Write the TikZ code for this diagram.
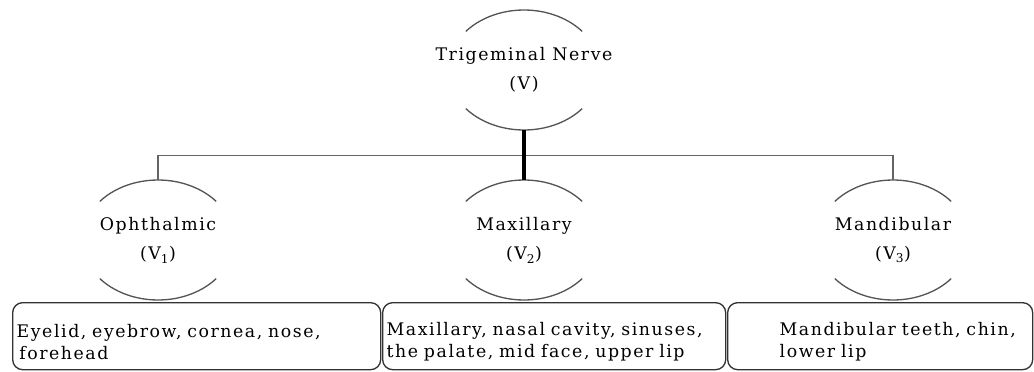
\documentclass[tikz,border=0pt]{standalone}
\usepackage{fontspec}
\setmainfont[LetterSpace=9]{DejaVu Serif}
\usepackage{tikz}
\usetikzlibrary{shapes.geometric}
\definecolor{arcgray}{RGB}{85,85,85}
\definecolor{linegray}{RGB}{100,100,100}
\definecolor{boxgray}{RGB}{50,50,50}
\newcommand{\nervearcs}[1]{
  \draw [arcline] ([shift={(#1.center)}]140:76 and 60) arc [start angle=140, end angle=40, x radius=76, y radius=60];
  \draw [arcline] ([shift={(#1.center)}]220:76 and 60) arc [start angle=220, end angle=320, x radius=76, y radius=60];
}

\begin{document}
\begin{tikzpicture}[x=0.75pt,y=-0.75pt,
    nerve/.style={ellipse,minimum width=114pt,minimum height=90pt,inner sep=0pt,align=center,font=\fontsize{13}{22}\selectfont},
    leafbox/.style={draw=boxgray,line width=1pt,rounded corners=7.5pt,anchor=north west,minimum height=50.25pt,inner xsep=3pt,align=left,font=\fontsize{13}{16.5}\selectfont},
    arcline/.style={draw=arcgray,line width=1pt},
    busline/.style={draw=linegray,line width=1.1pt},
    trunkline/.style={draw=black,line width=3pt}]
      \useasboundingbox (0,0) rectangle (1034,371);
      \node [nerve] (tn) at (524,70) {Trigeminal Nerve\\(V)};
      \node [nerve] (oph) at (158,240) {Ophthalmic\\(V\textsubscript{1})};
      \node [nerve] (max) at (524,240) {Maxillary\\(V\textsubscript{2})};
      \node [nerve] (man) at (893,240) {Mandibular\\(V\textsubscript{3})};
      \foreach \n in {tn,oph,max,man} {\nervearcs{\n}}
      \node [leafbox,minimum width=276pt,text width=270pt] (ophbox) at (12,302) {\rule{0pt}{18pt}Eyelid, eyebrow, cornea, nose,\\\hspace*{2pt}forehead};
      \node [leafbox,minimum width=257.25pt,text width=251.25pt] (maxbox) at (382,302) {\rule{0pt}{18pt}Maxillary, nasal cavity, sinuses,\\the palate, mid face, upper lip};
      \node [leafbox,minimum width=228.75pt,text width=222.75pt] (manbox) at (727,302) {\rule{0pt}{18pt}\hspace*{36pt}Mandibular teeth, chin,\\\hspace*{36pt}lower lip};
      \draw [busline] (oph.north) -- ++(0,-24) -| (man.north);
      \draw [trunkline] (tn.south) -- (max.north);
    \end{tikzpicture}
\end{document}
